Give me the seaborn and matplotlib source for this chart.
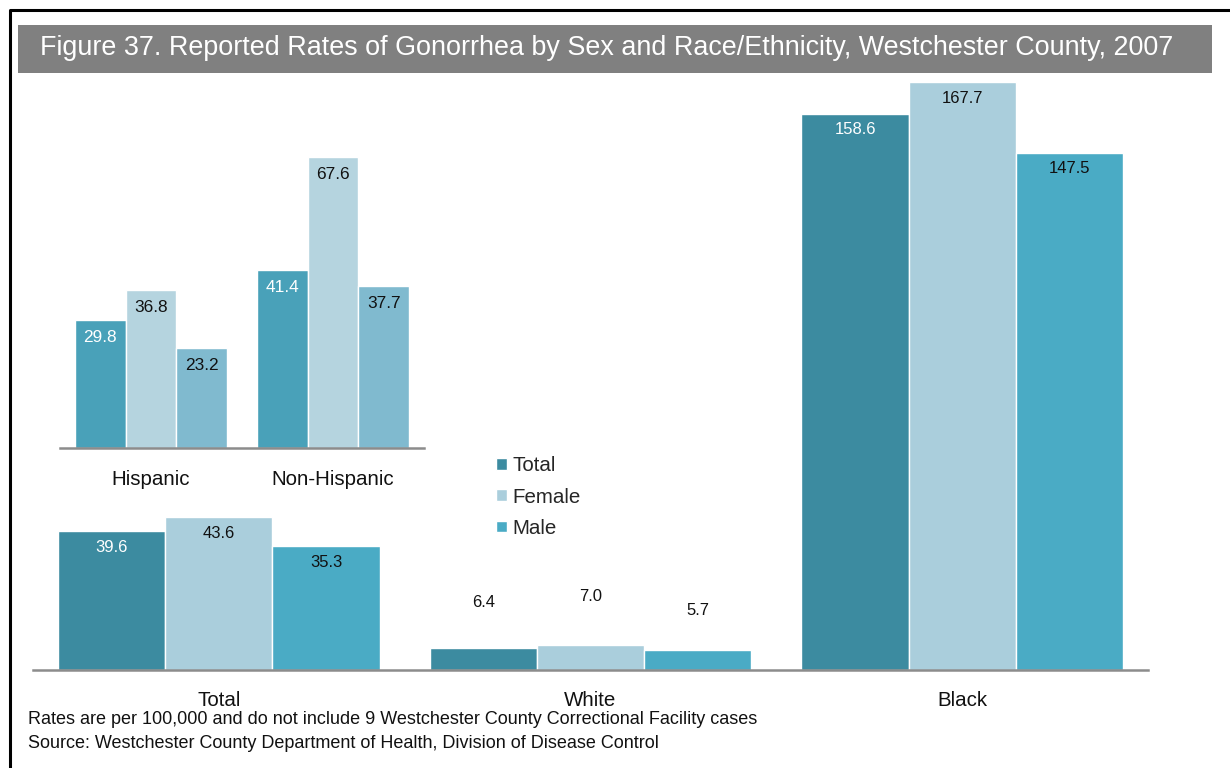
import pandas as pd
import matplotlib
matplotlib.use("Agg")
import matplotlib.pyplot as plt
import seaborn as sns
from matplotlib.patches import Rectangle, Patch
from matplotlib.lines import Line2D

# data
groups = ["Total", "Female", "Male"]
main_categories = ["Total", "White", "Black"]
main_total = [39.6, 6.4, 158.6]
main_female = [43.6, 7.0, 167.7]
main_male = [35.3, 5.7, 147.5]

eth_categories = ["Hispanic", "Non-Hispanic"]
eth_total = [29.8, 41.4]
eth_female = [36.8, 67.6]
eth_male = [23.2, 37.7]

title = "Figure 37. Reported Rates of Gonorrhea by Sex and Race/Ethnicity, Westchester County, 2007"
note_1 = "Rates are per 100,000 and do not include 9 Westchester County Correctional Facility cases"
note_2 = "Source: Westchester County Department of Health, Division of Disease Control"

main_colors = ["#3C8BA0", "#AACEDC", "#4AABC5"]
eth_colors = ["#49A1B9", "#B5D4DF", "#80BACF"]
label_colors = ["white", "#111111", "#111111"]


def long_table(categories, series):
    rows = []
    for g, vals in zip(groups, series):
        for c, v in zip(categories, vals):
            rows.append({"category": c, "group": g, "rate": v})
    return pd.DataFrame(rows)


def draw_bars(ax, df, categories, colors, width, fontsize, inside_off, pad):
    sns.barplot(data=df, x="category", y="rate", hue="group", order=categories,
                hue_order=groups, palette=colors, width=width, saturation=1,
                edgecolor="white", linewidth=1, errorbar=None, legend=False, ax=ax)
    for container, lc in zip(ax.containers, label_colors):
        for bar in container:
            h = bar.get_height()
            cx = bar.get_x() + bar.get_width() / 2
            if h < 20:
                # short bars get their value placed above
                ax.text(cx, h * 3, f"{h:.1f}", ha="center", va="center",
                        fontsize=fontsize, color="#111111")
            else:
                ax.annotate(f"{h:.1f}", (cx, h), xytext=(0, -inside_off),
                            textcoords="offset points", ha="center", va="center",
                            fontsize=fontsize, color=lc)
    ax.set_xlabel("")
    ax.set_ylabel("")
    ax.set_yticks([])
    ax.tick_params(axis="x", length=0, labelsize=14.8, pad=pad, colors="#111111")
    for s in ["top", "right", "left"]:
        ax.spines[s].set_visible(False)
    ax.spines["bottom"].set_color("#8C8C8C")
    ax.spines["bottom"].set_linewidth(1.8)
    ax.patch.set_alpha(0)


sns.set_theme(style="white")
plt.rcParams["font.family"] = ["Liberation Sans", "DejaVu Sans"]

fig = plt.figure(figsize=(12.3, 7.68), dpi=100)
W, H = 1230, 768

# outer frame (top and left edges) and title band
fig.lines.append(Line2D([10 / W, 10 / W, 1.0], [0.0, 1 - 10 / H, 1 - 10 / H],
                        transform=fig.transFigure, color="black", linewidth=2.2))
fig.patches.append(Rectangle((18 / W, 1 - 73 / H), 1194 / W, 48 / H, transform=fig.transFigure,
                             facecolor="#808080", edgecolor="none"))
fig.text(40 / W, 1 - 48 / H, title, color="white", fontsize=19.4, va="center", ha="left")

# main chart
ax = fig.add_axes([33 / W, 1 - 670 / H, 1115 / W, 170 * 3.506 / H])
draw_bars(ax, long_table(main_categories, [main_total, main_female, main_male]),
          main_categories, main_colors, 0.865, 12, 11.5, 15)
ax.set_xlim(-0.5, 2.5)
ax.set_ylim(0, 170)

# inset by ethnicity
ax2 = fig.add_axes([60 / W, 1 - 448 / H, 364 / W, 70 * 4.30 / H])
draw_bars(ax2, long_table(eth_categories, [eth_total, eth_female, eth_male]),
          eth_categories, eth_colors, 0.84, 12.4, 12.5, 15.5)
ax2.set_xlim(-0.5, 1.5)
ax2.set_ylim(0, 70)

handles = [Patch(facecolor=c, edgecolor="white") for c in main_colors]
fig.legend(handles, groups, loc="upper left", bbox_to_anchor=(488 / W, 1 - 448 / H),
           frameon=False, fontsize=14.8, handlelength=0.5, handleheight=0.5,
           handletextpad=0.3, labelspacing=0.6, borderaxespad=0)

fig.text(28 / W, 1 - 720 / H, note_1, fontsize=13, va="center", ha="left", color="#111111")
fig.text(28 / W, 1 - 744 / H, note_2, fontsize=13, va="center", ha="left", color="#111111")

fig.savefig("out.png", dpi=100)
